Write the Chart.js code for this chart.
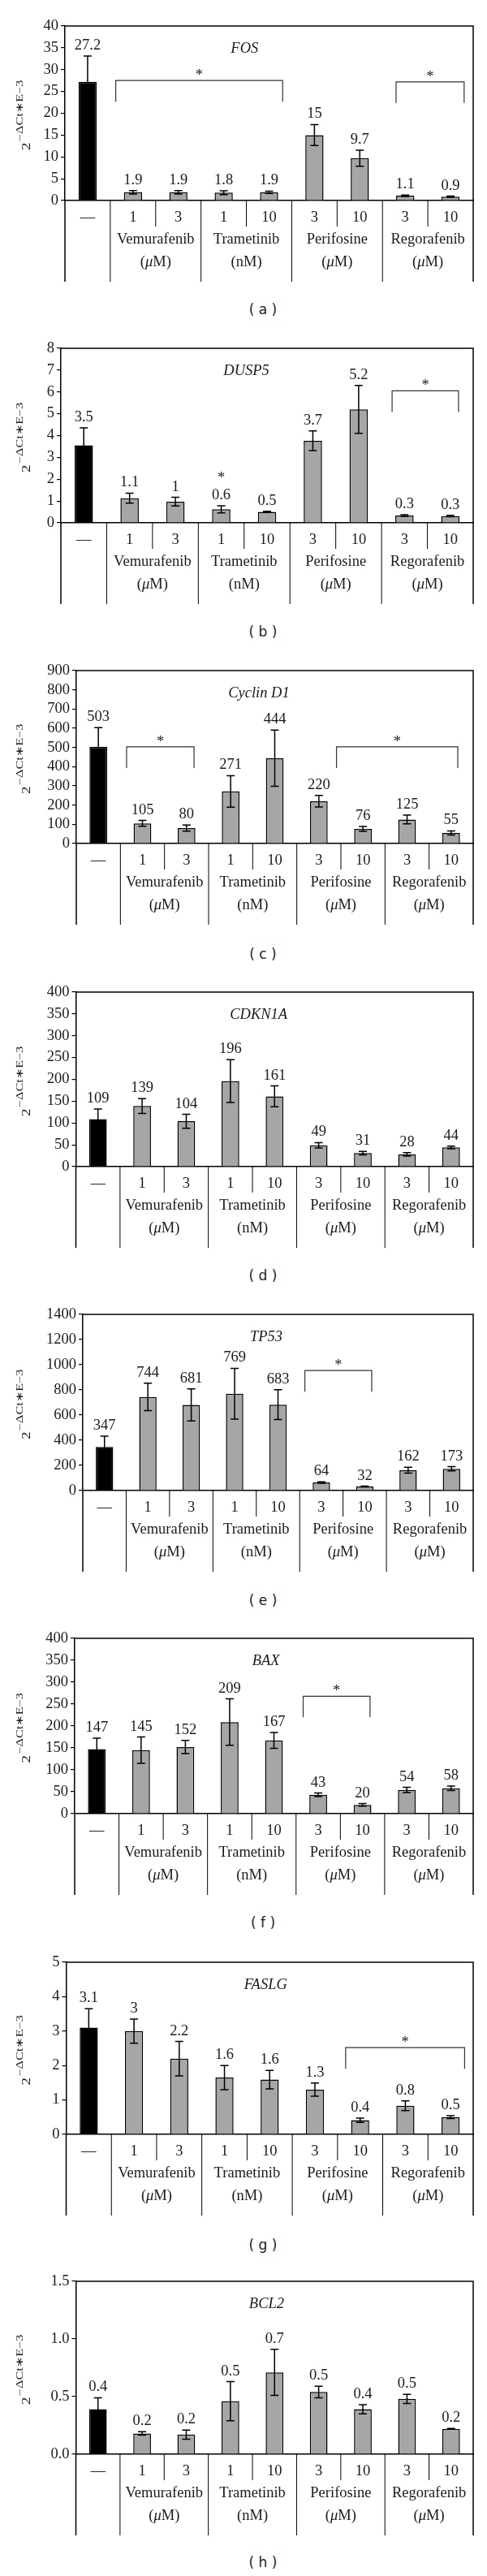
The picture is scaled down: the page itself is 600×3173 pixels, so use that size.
<!DOCTYPE html>
<html>
<head>
<meta charset="utf-8">
<script src="https://cdn.jsdelivr.net/npm/chart.js@4.4.0/dist/chart.umd.min.js"></script>
<style>
body { margin: 0; background: #fff; width: 600px; height: 3173px; position: relative; overflow: hidden; }
canvas { position: absolute; left: 0; }
.tag { position: absolute; left: 284px; width: 80px; height: 24px; line-height: 24px; text-align: center; font: 17px "DejaVu Sans", sans-serif; color: #222; white-space: pre; }
</style>
</head>
<body>
<script>
// categories and group labels under the x axis
const categories = ["—", "1", "3", "1", "10", "3", "10", "3", "10"];
const drugs = ["Vemurafenib", "Trametinib", "Perifosine", "Regorafenib"];
const units = ["μM", "nM", "μM", "μM"];
const genes = ["FOS", "DUSP5", "Cyclin D1", "CDKN1A", "TP53", "BAX", "FASLG", "BCL2"];
const tags = ["a", "b", "c", "d", "e", "f", "g", "h"];
const yTitleSup = "−ΔCt∗E−3";

// y axis ranges
const yMaxes = [40, 8, 900, 400, 1400, 400, 5, 1.5];
const ySteps = [5, 1, 100, 50, 200, 50, 1, 0.5];
const tickDigits = [0, 0, 0, 0, 0, 0, 0, 1];

// (a) FOS
const fosValues = [27.2, 1.9, 1.9, 1.8, 1.9, 15, 9.7, 1.1, 0.9];
const fosErrors = [5.9, 0.4, 0.4, 0.45, 0.25, 2.4, 1.85, 0.15, 0.12];
const fosLabels = ["27.2", "1.9", "1.9", "1.8", "1.9", "15", "9.7", "1.1", "0.9"];
const fosBrackets = [[0.62, 4.3, 27.5], [6.8, 8.3, 27.2]];

// (b) DUSP5
const duspValues = [3.55, 1.13, 0.97, 0.62, 0.5, 3.76, 5.2, 0.335, 0.31];
const duspErrors = [0.8, 0.23, 0.2, 0.16, 0.03, 0.45, 1.1, 0.04, 0.03];
const duspLabels = ["3.5", "1.1", "1", "0.6", "0.5", "3.7", "5.2", "0.3", "0.3"];
const duspBrackets = [[6.73, 8.18, 6.05]];
const duspStars = [3];

// (c) Cyclin D1
const ccndValues = [503, 105, 80, 271, 444, 220, 76, 125, 55];
const ccndErrors = [100, 15, 16, 82, 146, 30, 13, 23, 11];
const ccndBrackets = [[0.64, 2.17, 503], [5.4, 8.15, 503]];

// (d) CDKN1A
const cdknValues = [109, 139, 104, 196, 161, 49, 31, 28, 44];
const cdknErrors = [23, 17, 16, 49, 24, 6, 4, 4, 3];

// (e) TP53
const tp53Values = [347, 744, 681, 769, 683, 64, 32, 162, 173];
const tp53Errors = [86, 109, 127, 202, 118, 6, 3, 23, 17];
const tp53Brackets = [[4.62, 6.16, 954]];

// (f) BAX
const baxValues = [147, 145, 152, 209, 167, 43, 20, 54, 58];
const baxErrors = [25, 30, 15, 53, 18, 4, 3, 6, 5];
const baxBrackets = [[4.66, 6.17, 268]];

// (g) FASLG
const faslValues = [3.1, 3.0, 2.2, 1.65, 1.59, 1.3, 0.41, 0.83, 0.5];
const faslErrors = [0.55, 0.35, 0.5, 0.35, 0.27, 0.19, 0.06, 0.14, 0.04];
const faslLabels = ["3.1", "3", "2.2", "1.6", "1.6", "1.3", "0.4", "0.8", "0.5"];
const faslBrackets = [[5.68, 8.31, 2.52]];

// (h) BCL2
const bclValues = [0.39, 0.18, 0.17, 0.46, 0.71, 0.54, 0.39, 0.48, 0.22];
const bclErrors = [0.1, 0.015, 0.04, 0.17, 0.2, 0.05, 0.04, 0.04, 0.004];
const bclLabels = ["0.4", "0.2", "0.2", "0.5", "0.7", "0.5", "0.4", "0.5", "0.2"];

const panels = [
  { values: fosValues, errors: fosErrors, labels: fosLabels, brackets: fosBrackets, stars: [] },
  { values: duspValues, errors: duspErrors, labels: duspLabels, brackets: duspBrackets, stars: duspStars },
  { values: ccndValues, errors: ccndErrors, labels: ccndValues.map(String), brackets: ccndBrackets, stars: [] },
  { values: cdknValues, errors: cdknErrors, labels: cdknValues.map(String), brackets: [], stars: [] },
  { values: tp53Values, errors: tp53Errors, labels: tp53Values.map(String), brackets: tp53Brackets, stars: [] },
  { values: baxValues, errors: baxErrors, labels: baxValues.map(String), brackets: baxBrackets, stars: [] },
  { values: faslValues, errors: faslErrors, labels: faslLabels, brackets: faslBrackets, stars: [] },
  { values: bclValues, errors: bclErrors, labels: bclLabels, brackets: [], stars: [] }
];

// page layout (px)
const plotLeft = [80, 75, 94, 93.5, 102, 92, 81.5, 93.5];
const plotTop = [32, 429, 826, 1222, 1619, 2018, 2417, 2810];
const plotZero = [247, 644, 1039, 1437, 1836, 2234, 2629, 3023];
const tagY = [383, 780, 1177, 1573, 1973, 2370, 2767, 3158];
const titleX = [0.44, 0.45, 0.46, 0.46, 0.47, 0.48, 0.49, 0.48];
const PLOT_RIGHT = 583, PAD_TOP = 25, PAD_BOTTOM = 6, TABLE_H = 100;

const SERIF = '"Liberation Serif", "Times New Roman", serif';
const INK = '#1a1a1a';
const FS = 18.5;

function drawUnit(ctx, unit, cx, cy) {
  const parts = [["(", false]];
  if (unit.startsWith("μ")) parts.push(["μ", true], [unit.slice(1), false]);
  else parts.push([unit, false]);
  parts.push([")", false]);
  let total = 0;
  parts.forEach(pt => {
    ctx.font = (pt[1] ? 'italic ' : '') + FS + 'px ' + SERIF;
    pt.push(ctx.measureText(pt[0]).width);
    total += pt[2];
  });
  let xx = cx - total / 2;
  ctx.textAlign = 'left';
  parts.forEach(pt => {
    ctx.font = (pt[1] ? 'italic ' : '') + FS + 'px ' + SERIF;
    ctx.fillText(pt[0], xx, cy);
    xx += pt[2];
  });
}

function extras(p, i) {
  return {
    id: 'extras' + i,
    afterDatasetsDraw(chart) {
      const ctx = chart.ctx, x = chart.scales.x, y = chart.scales.y, a = chart.chartArea;
      const meta = chart.getDatasetMeta(0);
      const mid = k => (x.getPixelForValue(k) + x.getPixelForValue(k + 1)) / 2;
      ctx.save();
      ctx.strokeStyle = '#000';
      ctx.fillStyle = INK;

      // error bars + value labels
      p.values.forEach((v, k) => {
        const cx = meta.data[k].x;
        const hi = y.getPixelForValue(v + p.errors[k]);
        const lo = y.getPixelForValue(Math.max(0, v - p.errors[k]));
        ctx.lineWidth = 1.5;
        ctx.beginPath();
        ctx.moveTo(cx, hi); ctx.lineTo(cx, lo);
        ctx.moveTo(cx - 5, hi); ctx.lineTo(cx + 5, hi);
        ctx.moveTo(cx - 5, lo); ctx.lineTo(cx + 5, lo);
        ctx.stroke();
        ctx.font = FS + 'px ' + SERIF;
        ctx.textAlign = 'center';
        ctx.textBaseline = 'alphabetic';
        ctx.fillText(p.labels[k], cx, hi - 8);
        if (p.stars.includes(k)) ctx.fillText('*', cx, hi - 29);
      });

      // significance brackets
      p.brackets.forEach(([f, t, v]) => {
        const x1 = x.getPixelForValue(f), x2 = x.getPixelForValue(t), yy = y.getPixelForValue(v);
        ctx.lineWidth = 1.2;
        ctx.strokeStyle = '#333';
        ctx.beginPath();
        ctx.moveTo(x1, yy + 26); ctx.lineTo(x1, yy); ctx.lineTo(x2, yy); ctx.lineTo(x2, yy + 26);
        ctx.stroke();
        ctx.font = FS + 'px ' + SERIF;
        ctx.textAlign = 'center';
        ctx.textBaseline = 'alphabetic';
        ctx.fillText('*', (x1 + x2) / 2, yy - 1);
      });

      // frame and table lines
      ctx.strokeStyle = '#000';
      ctx.lineWidth = 1.5;
      ctx.beginPath();
      ctx.moveTo(a.left, a.top); ctx.lineTo(a.right, a.top); ctx.lineTo(a.right, a.bottom + TABLE_H);
      ctx.moveTo(a.left, a.bottom); ctx.lineTo(a.left, a.bottom + TABLE_H);
      ctx.stroke();
      ctx.lineWidth = 1;
      ctx.beginPath();
      drugs.forEach((d, g) => {
        const full = mid(2 * g), half = mid(2 * g + 1);
        ctx.moveTo(full, a.bottom); ctx.lineTo(full, a.bottom + TABLE_H);
        ctx.moveTo(half, a.bottom); ctx.lineTo(half, a.bottom + 32);
      });
      ctx.stroke();

      // drug names and units
      ctx.textBaseline = 'middle';
      drugs.forEach((d, g) => {
        const cx = mid(2 * g + 1);
        ctx.font = FS + 'px ' + SERIF;
        ctx.textAlign = 'center';
        ctx.fillText(d, cx, a.bottom + 48);
        drawUnit(ctx, units[g], cx, a.bottom + 76);
      });

      // gene name
      ctx.font = 'italic ' + FS + 'px ' + SERIF;
      ctx.textAlign = 'center';
      ctx.fillText(genes[i], a.left + titleX[i] * (a.right - a.left), a.top + 28);

      // y axis title 2^(−ΔCt∗E−3)
      ctx.translate(37, (a.top + a.bottom) / 2 + 3);
      ctx.rotate(-Math.PI / 2);
      ctx.scale(1.35, 1);
      ctx.textAlign = 'left';
      ctx.textBaseline = 'alphabetic';
      ctx.font = '14px ' + SERIF;
      const w1 = ctx.measureText('2').width;
      ctx.font = '12px ' + SERIF;
      const w2 = ctx.measureText(yTitleSup).width;
      const x0 = -(w1 + w2) / 2;
      ctx.font = '14px ' + SERIF;
      ctx.fillText('2', x0, 0);
      ctx.font = '12px ' + SERIF;
      ctx.fillText(yTitleSup, x0 + w1 + 1, -9.5);
      ctx.restore();
    }
  };
}

panels.forEach((p, i) => {
  const canvas = document.createElement('canvas');
  const h = (plotZero[i] - plotTop[i]) + PAD_TOP + TABLE_H + PAD_BOTTOM;
  canvas.width = 600;
  canvas.height = h;
  canvas.style.width = '600px';
  canvas.style.height = h + 'px';
  canvas.style.top = (plotTop[i] - PAD_TOP) + 'px';
  document.body.appendChild(canvas);

  const tag = document.createElement('div');
  tag.className = 'tag';
  tag.style.top = (tagY[i] - 12) + 'px';
  tag.textContent = '( ' + tags[i] + ' )';
  document.body.appendChild(tag);

  new Chart(canvas, {
    type: 'bar',
    data: {
      labels: categories,
      datasets: [{
        data: p.values,
        backgroundColor: p.values.map((v, k) => k === 0 ? '#000' : '#a6a6a6'),
        borderColor: '#000',
        borderWidth: 1.5,
        barPercentage: 0.4,
        categoryPercentage: 1
      }]
    },
    options: {
      responsive: false,
      animation: false,
      devicePixelRatio: 1,
      layout: { padding: { top: PAD_TOP, right: 600 - PLOT_RIGHT, bottom: PAD_BOTTOM, left: 0 } },
      plugins: { legend: { display: false }, tooltip: { enabled: false } },
      scales: {
        x: {
          grid: { display: false, drawTicks: false },
          border: { display: true, color: '#000', width: 1.5 },
          ticks: { color: INK, font: { family: SERIF, size: FS }, padding: 10, maxRotation: 0, autoSkip: false },
          afterFit: s => { s.height = TABLE_H; }
        },
        y: {
          min: 0,
          max: yMaxes[i],
          grid: { display: true, drawOnChartArea: false, drawTicks: true, tickLength: 5, color: '#000', lineWidth: 1.2 },
          border: { display: true, color: '#000', width: 1.5 },
          ticks: { stepSize: ySteps[i], autoSkip: false, color: INK, font: { family: SERIF, size: FS }, padding: 3,
                   callback: v => Number(v).toFixed(tickDigits[i]) },
          afterFit: s => { s.width = plotLeft[i]; }
        }
      }
    },
    plugins: [extras(p, i)]
  });
});
</script>
</body>
</html>
